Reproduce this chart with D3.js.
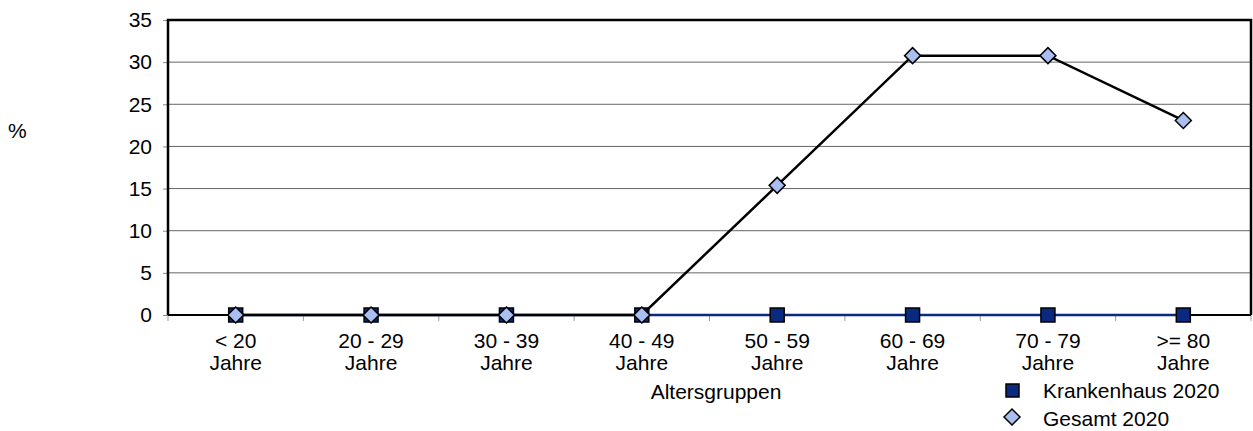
<!DOCTYPE html>
<html>
<head>
<meta charset="utf-8">
<script src="https://cdn.jsdelivr.net/npm/d3@7"></script>
<style>
  body { margin: 0; background: #fff; }
  svg { display: block; font-family: "Liberation Sans", Arial, sans-serif; }
</style>
</head>
<body>
<svg id="chart" width="1253" height="431"></svg>
<script>
// Age groups (two-line labels) and percentages per series
const categories = ["< 20|Jahre", "20 - 29|Jahre", "30 - 39|Jahre", "40 - 49|Jahre",
                    "50 - 59|Jahre", "60 - 69|Jahre", "70 - 79|Jahre", ">= 80|Jahre"];
const krankenhaus2020 = [0, 0, 0, 0, 0, 0, 0, 0];
const gesamt2020 = [0, 0, 0, 0, 15.38, 30.77, 30.77, 23.08];
const yTicks = [0, 5, 10, 15, 20, 25, 30, 35];

const FS = 21;
const svg = d3.select("#chart");
const plotLeft = 168, plotRight = 1251, plotTop = 20, plotBottom = 315;

const x = d3.scaleBand().domain(categories).range([plotLeft, plotRight]);
const y = d3.scaleLinear().domain([0, 35]).range([plotBottom, plotTop]);

// horizontal gridlines
svg.append("g").selectAll("line").data(yTicks.filter(d => d > 0 && d < 35)).join("line")
  .attr("x1", plotLeft).attr("x2", plotRight)
  .attr("y1", d => y(d)).attr("y2", d => y(d))
  .attr("stroke", "#666").attr("stroke-width", 1);

// y axis
const yAxis = svg.append("g").attr("transform", `translate(${plotLeft},0)`)
  .call(d3.axisLeft(y).tickValues(yTicks).tickSize(5).tickPadding(11));
yAxis.select(".domain").remove();
yAxis.selectAll(".tick line").attr("stroke", "#888");
yAxis.selectAll("text").attr("font-size", FS).attr("fill", "#000")
  .attr("font-family", "Liberation Sans, Arial, sans-serif");

// x axis ticks at category boundaries
const bounds = categories.map(c => x(c)).concat([plotRight]);
svg.append("g").selectAll("line").data(bounds).join("line")
  .attr("x1", d => d).attr("x2", d => d)
  .attr("y1", plotBottom).attr("y2", plotBottom + 6)
  .attr("stroke", "#999").attr("stroke-width", 1);

// x tick labels (two lines)
const xl = svg.append("g").selectAll("text").data(categories).join("text")
  .attr("text-anchor", "middle").attr("font-size", FS).attr("fill", "#000");
xl.append("tspan").attr("x", d => x(d) + x.bandwidth() / 2).attr("y", 348).text(d => d.split("|")[0]);
xl.append("tspan").attr("x", d => x(d) + x.bandwidth() / 2).attr("y", 370).text(d => d.split("|")[1]);

// plot frame
svg.append("path")
  .attr("d", `M${plotLeft},${plotBottom} L${plotLeft},${plotTop} L${plotRight},${plotTop} L${plotRight},${plotBottom}`)
  .attr("fill", "none").attr("stroke", "#000").attr("stroke-width", 2.5);
svg.append("line").attr("x1", plotLeft).attr("x2", plotRight).attr("y1", plotBottom).attr("y2", plotBottom)
  .attr("stroke", "#000").attr("stroke-width", 2);

const cx = i => x(categories[i]) + x.bandwidth() / 2;
const line = d3.line().x((d, i) => cx(i)).y(d => y(d));

// Krankenhaus 2020: navy line with squares
svg.append("path").datum(krankenhaus2020).attr("d", line)
  .attr("fill", "none").attr("stroke", "#0a2a80").attr("stroke-width", 2.5);
svg.append("g").selectAll("rect").data(krankenhaus2020).join("rect")
  .attr("x", (d, i) => cx(i) - 7).attr("y", d => y(d) - 7)
  .attr("width", 14).attr("height", 14)
  .attr("fill", "#0a2a80").attr("stroke", "#000").attr("stroke-width", 1.5);

// Gesamt 2020: black line with light-blue diamonds
svg.append("path").datum(gesamt2020).attr("d", line)
  .attr("fill", "none").attr("stroke", "#000").attr("stroke-width", 2.5);
const diamond = "M0,-8 L8,0 L0,8 L-8,0 Z";
svg.append("g").selectAll("path").data(gesamt2020).join("path")
  .attr("transform", (d, i) => `translate(${cx(i)},${y(d)})`)
  .attr("d", diamond)
  .attr("fill", "#a8bff0").attr("stroke", "#000").attr("stroke-width", 1.5);

// axis titles
svg.append("text").attr("x", 8).attr("y", 138).attr("font-size", FS).text("%");
svg.append("text").attr("x", 716).attr("y", 399).attr("text-anchor", "middle")
  .attr("font-size", FS).text("Altersgruppen");

// legend
const lg = svg.append("g");
lg.append("rect").attr("x", 1006).attr("y", 384).attr("width", 13).attr("height", 13)
  .attr("fill", "#0a2a80").attr("stroke", "#000").attr("stroke-width", 1.5);
lg.append("text").attr("x", 1043).attr("y", 398).attr("font-size", FS).text("Krankenhaus 2020");
lg.append("path").attr("transform", "translate(1012,417)").attr("d", diamond)
  .attr("fill", "#a8bff0").attr("stroke", "#000").attr("stroke-width", 1.5);
lg.append("text").attr("x", 1043).attr("y", 426).attr("font-size", FS).text("Gesamt 2020");
</script>
</body>
</html>
